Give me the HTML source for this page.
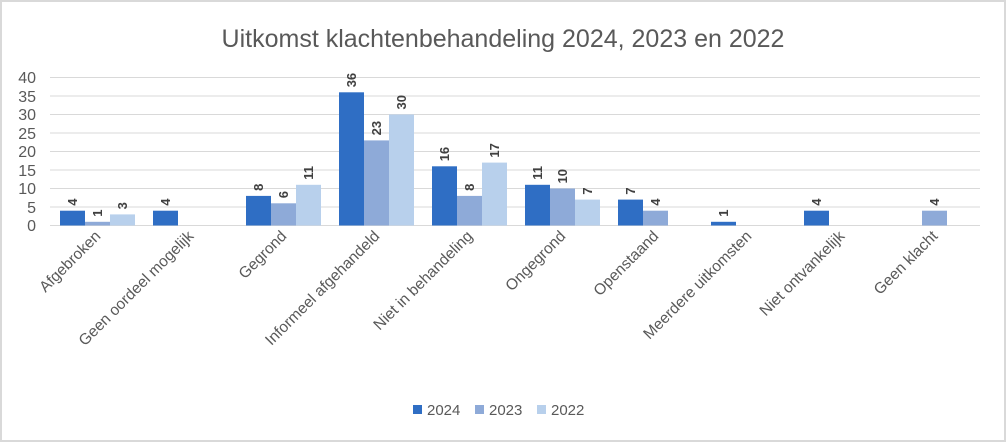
<!DOCTYPE html><html><head><style>body{margin:0;background:#fff}svg{display:block}text{font-family:"Liberation Sans",sans-serif}</style></head><body>
<svg width="1006" height="442" xmlns="http://www.w3.org/2000/svg">
<rect x="1" y="1" width="1004" height="440" fill="#fff" stroke="#d9d9d9" stroke-width="2"/>
<text x="503" y="47" text-anchor="middle" font-size="25" fill="#595959">Uitkomst klachtenbehandeling 2024, 2023 en 2022</text>
<g stroke="#d9d9d9" stroke-width="1">
<line x1="50" x2="980" y1="77.5" y2="77.5"/><line x1="50" x2="980" y1="96" y2="96"/><line x1="50" x2="980" y1="114.5" y2="114.5"/><line x1="50" x2="980" y1="133" y2="133"/><line x1="50" x2="980" y1="151.5" y2="151.5"/><line x1="50" x2="980" y1="170" y2="170"/><line x1="50" x2="980" y1="188.5" y2="188.5"/><line x1="50" x2="980" y1="207" y2="207"/><line x1="50" x2="980" y1="225.5" y2="225.5"/>
</g>
<g font-size="16" fill="#595959" text-anchor="end">
<text x="36" y="83">40</text><text x="36" y="102">35</text><text x="36" y="120">30</text><text x="36" y="139">25</text><text x="36" y="157">20</text><text x="36" y="176">15</text><text x="36" y="194">10</text><text x="36" y="213">5</text><text x="36" y="231">0</text>
</g>
<g id="bars"></g>
<g font-size="15.5" fill="#595959" text-anchor="end" id="cats"></g>
<g font-size="15" fill="#595959">
<rect x="413" y="405" width="9" height="9" fill="#2f6ec4"/><text x="427" y="415">2024</text>
<rect x="475" y="405" width="9" height="9" fill="#8eaad8"/><text x="489" y="415">2023</text>
<rect x="537" y="405" width="9" height="9" fill="#b8d0ec"/><text x="551" y="415">2022</text>
</g>
</svg>
<script>
const d=[["Afgebroken",[4,1,3]],["Geen oordeel mogelijk",[4,null,null]],["Gegrond",[8,6,11]],["Informeel afgehandeld",[36,23,30]],["Niet in behandeling",[16,8,17]],["Ongegrond",[11,10,7]],["Openstaand",[7,4,null]],["Meerdere uitkomsten",[1,null,null]],["Niet ontvankelijk",[4,null,null]],["Geen klacht",[null,4,null]]];
const c=["#2f6ec4","#8eaad8","#b8d0ec"];let b="",t="";
d.forEach((r,i)=>{const cx=50+93*i+46.5;
r[1].forEach((v,j)=>{if(v==null)return;const x=50+93*i+10+25*j,h=v*3.7,y=225.5-h;
b+=`<rect x="${x}" y="${y}" width="25" height="${h}" fill="${c[j]}"/>`;
b+=`<text transform="translate(${x+17},${y-5}) rotate(-90)" font-size="13" font-weight="bold" fill="#404040">${v}</text>`;});
t+=`<text transform="translate(${cx+5},237) rotate(-45)">${r[0]}</text>`;});
document.getElementById("bars").innerHTML=b;document.getElementById("cats").innerHTML=t;
</script>
</body></html>
